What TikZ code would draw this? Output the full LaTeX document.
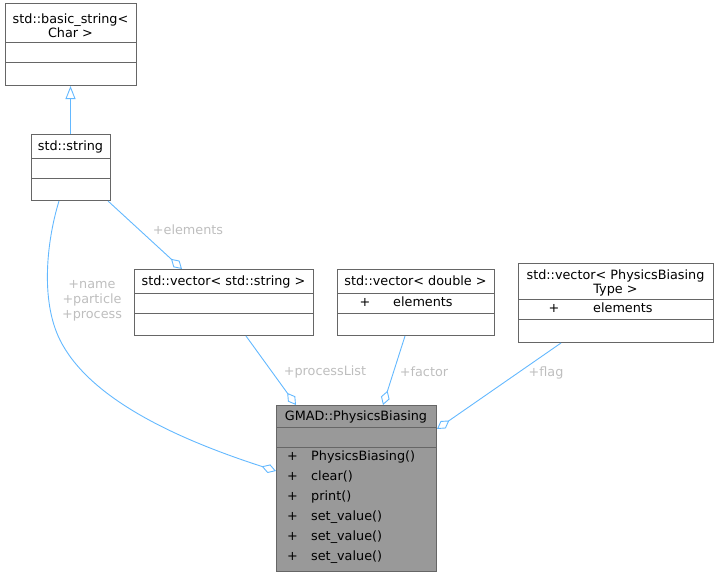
\documentclass[tikz,border=0pt]{standalone}
\usepackage{fontspec}
\setmainfont{DejaVu Sans}
\usetikzlibrary{arrows.meta}
\definecolor{edgeblue}{HTML}{63B8FF}
\definecolor{boxline}{HTML}{666666}
\definecolor{lblgray}{HTML}{BEBEBE}
\definecolor{mainfill}{HTML}{999999}
\tikzset{
  cls/.style={draw=boxline, line width=1pt, fill=white, anchor=north west, inner sep=0pt, minimum width=#1},
  clsmain/.style={draw=boxline, line width=1pt, fill=mainfill, anchor=north west, inner sep=0pt, minimum width=#1},
  divline/.style={draw=boxline, line width=1pt},
  txt/.style={inner sep=0pt, font=\fontsize{12.8}{14}\selectfont, align=center},
  row/.style={inner sep=0pt, font=\fontsize{12.8}{14}\selectfont, text height=9.5pt, text depth=3pt},
  lbl/.style={inner sep=0pt, font=\fontsize{12.8}{14.7}\selectfont, text=lblgray, align=center},
  edge/.style={draw=edgeblue, line width=0.9pt},
  aggr/.style={edge, {Diamond[open,length=15pt,width=9pt]}-},
  inherit/.style={edge, -{Triangle[open,length=13pt,width=10pt]}}
}
\begin{document}
\begin{tikzpicture}[x=1pt,y=-1pt]
\useasboundingbox (0,0) rectangle (719,576);

% std::basic_string< Char >
\node[cls=131pt, minimum height=82pt] (basic) at (5,3) {};
\draw[divline] (5,42) -- (136,42);
\draw[divline] (5,62) -- (136,62);
\node[txt] (basicT) at (70.5,25.5) {std::basic\_string<\\Char >};

% std::string
\node[cls=79pt, minimum height=66pt] (str) at (31,134) {};
\draw[divline] (31,158) -- (110,158);
\draw[divline] (31,178) -- (110,178);
\node[row] (strT) at (70.5,147) {std::string};

% std::vector< std::string >
\node[cls=179pt, minimum height=66pt] (vstr) at (134,269) {};
\draw[divline] (134,293) -- (313,293);
\draw[divline] (134,313) -- (313,313);
\node[row] (vstrT) at (223.5,282) {std::vector< std::string >};

% std::vector< double >
\node[cls=157pt, minimum height=66pt] (vdbl) at (337,269) {};
\draw[divline] (337,293) -- (494,293);
\draw[divline] (337,313) -- (494,313);
\node[row] (vdblT) at (415.5,282) {std::vector< double >};
\node[row] (vdblP) at (365,303) {+};
\node[row, anchor=west] (vdblE) at (393,303) {elements};

% std::vector< PhysicsBiasing Type >
\node[cls=195pt, minimum height=79pt] (vpbt) at (518,263) {};
\draw[divline] (518,299) -- (713,299);
\draw[divline] (518,319) -- (713,319);
\node[txt] (vpbtT) at (615.5,282.5) {std::vector< PhysicsBiasing\\Type >};
\node[row] (vpbtP) at (554,309) {+};
\node[row, anchor=west] (vpbtE) at (593,309) {elements};

% GMAD::PhysicsBiasing
\node[clsmain=160pt, minimum height=166pt] (pb) at (276,405) {};
\draw[divline] (276,427) -- (436,427);
\draw[divline] (276,447) -- (436,447);
\node[row] (pbT) at (356,417) {GMAD::PhysicsBiasing};
\foreach \i/\m in {0/PhysicsBiasing(),1/clear(),2/print(),3/set\_value(),4/set\_value(),5/set\_value()}{
  \node[row] (pbP\i) at (292.5,457.5+20*\i) {+};
  \node[row, anchor=west] (pbM\i) at (311,457.5+20*\i) {\m};
}

% inheritance
\draw[inherit] ([xshift=39.5pt]str.north west) -- ([xshift=65.5pt]basic.south west);

% aggregations
\draw[aggr] ([xshift=48pt]vstr.north west) -- ([xshift=77pt]str.south west);
\draw[aggr] ([xshift=20pt]pb.north west) -- ([xshift=112pt]vstr.south west);
\draw[aggr] ([xshift=107pt]pb.north west) -- ([xshift=68pt]vdbl.south west);
\draw[aggr] ([yshift=-24pt]pb.north east) -- ([xshift=43pt]vpbt.south west);
\draw[aggr] ([yshift=-66pt]pb.north west) .. controls (180,440) and (90,400) .. (60,340)
   .. controls (40,300) and (47,240) .. ([xshift=28pt]str.south west);

% labels
\node[lbl] (lElem) at (188,230) {+elements};
\node[lbl] (lName) at (92,301) {+name\\+particle\\+process};
\node[lbl] (lProc) at (325,372) {+processList};
\node[lbl] (lFact) at (424,372) {+factor};
\node[lbl] (lFlag) at (546,373) {+flag};
\end{tikzpicture}
\end{document}
